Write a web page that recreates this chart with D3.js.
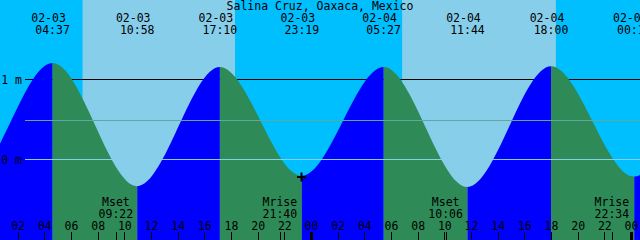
<!DOCTYPE html>
<html>
<head>
<meta charset="utf-8">
<script src="https://cdn.jsdelivr.net/npm/d3@7"></script>
<style>
  body { margin: 0; }
  svg { display: block; }
  text { font-family: "DejaVu Sans Mono", monospace; font-size: 11.5px; fill: #000; }
</style>
</head>
<body>
<div id="graphic"></div>
<script>
// Chart data
const station = "Salina Cruz, Oaxaca, Mexico";
// high / low tides (the first two and last two lie outside the window)
const tideTimes = ["02-02 16:10", "02-02 22:24", "02-03 04:37", "02-03 10:58", "02-03 17:10",
                   "02-03 23:19", "02-04 05:27", "02-04 11:44", "02-04 18:00", "02-05 00:15",
                   "02-05 06:25", "02-05 12:35"];
const tideHeights = [1.17, -0.25, 1.20, -0.34, 1.15, -0.21, 1.15, -0.35, 1.16, -0.22, 1.18, -0.33];
const sunrises = ["02-03 06:52", "02-04 06:50"];
const sunsets = ["02-03 18:18", "02-04 18:22"];
const moonEvents = ["Mset", "Mrise", "Mset", "Mrise"];
const moonTimes = ["02-03 09:22", "02-03 21:40", "02-04 10:06", "02-04 22:34"];
const levelTicks = [0, 1];
const meanLevel = 0.49;
const markTime = "02-03 23:14";
const markHeight = -0.22;

const width = 640, height = 240;
const parse = d3.utcParse("%m-%d %H:%M");
const tides = tideTimes.map((t, i) => ({ time: parse(t), h: tideHeights[i] }));

const x = d3.scaleUtc()
  .domain([parse("02-03 00:00"), parse("02-05 00:00")])
  .range([-9, 631]);
const y = d3.scaleLinear().domain([0, 1]).range([159, 79]);

const svg = d3.select("#graphic").append("svg")
  .attr("width", width).attr("height", height);

// night / day background
svg.append("rect").attr("width", width).attr("height", height).attr("fill", "#00bfff");
svg.selectAll(".day")
  .data(sunrises.map((s, i) => [parse(s), parse(sunsets[i])]))
  .join("rect")
  .attr("x", d => x(d[0])).attr("width", d => x(d[1]) - x(d[0]))
  .attr("y", 0).attr("height", height)
  .attr("fill", "#87ceeb");

// 1 m line sits behind the water
svg.append("line")
  .attr("x1", 25).attr("x2", width)
  .attr("y1", y(1) + 0.5).attr("y2", y(1) + 0.5)
  .attr("stroke", "#000");

// water area, coloured by rising / falling
const area = d3.area()
  .x(d => x(d.time))
  .y0(height)
  .y1(d => y(d.h))
  .curve(d3.curveMonotoneX);

svg.append("clipPath").attr("id", "water")
  .append("path").attr("d", area(tides));

svg.append("g").attr("clip-path", "url(#water)")
  .selectAll("rect")
  .data(d3.pairs(tides))
  .join("rect")
  .attr("x", d => x(d[0].time))
  .attr("width", d => x(d[1].time) - x(d[0].time))
  .attr("y", 0).attr("height", height)
  .attr("fill", d => d[1].h > d[0].h ? "#0000ff" : "#2e8b57");

// mean level and datum lines drawn over the water
svg.append("line")
  .attr("x1", 25).attr("x2", width)
  .attr("y1", Math.round(y(meanLevel)) + 0.5).attr("y2", Math.round(y(meanLevel)) + 0.5)
  .attr("stroke", "#5fa8a0");
svg.append("line")
  .attr("x1", 25).attr("x2", width)
  .attr("y1", y(0) + 0.5).attr("y2", y(0) + 0.5)
  .attr("stroke", "#87ceeb");

// level labels
const yAxis = svg.append("g")
  .attr("transform", "translate(25,0)")
  .call(d3.axisLeft(y).tickValues(levelTicks).tickFormat(d => d + " m").tickSize(0).tickPadding(3));
yAxis.select(".domain").remove();
yAxis.attr("font-family", null).attr("font-size", null);
yAxis.selectAll("text").attr("dy", "0.35em");

// "+" marker
const mx = Math.round(x(parse(markTime))), my = Math.round(y(markHeight));
svg.append("path")
  .attr("d", `M${mx - 4},${my}H${mx + 5}M${mx + 0.5},${my - 4.5}V${my + 4.5}`)
  .attr("stroke", "#000").attr("stroke-width", 2).attr("fill", "none");

// title
svg.append("text")
  .attr("x", 320).attr("y", 9.5)
  .attr("text-anchor", "middle")
  .text(station);

// tide event labels (only those inside the window)
const fmtDate = d3.utcFormat("%m-%d"), fmtTime = d3.utcFormat("%H:%M");
const shown = tides.filter(d => x(d.time) >= 0 && x(d.time) <= width);
const ev = svg.append("g").selectAll("g").data(shown).join("g");
ev.append("text")
  .attr("x", d => x(d.time) - 4).attr("y", 22)
  .attr("text-anchor", "middle")
  .text(d => fmtDate(d.time));
ev.append("text")
  .attr("x", d => x(d.time)).attr("y", 33.5)
  .attr("text-anchor", "middle")
  .text(d => fmtTime(d.time));

// moon events
const moon = moonTimes.map((t, i) => ({ time: parse(t), name: moonEvents[i] }));
const mg = svg.append("g").selectAll("g").data(moon).join("g");
mg.append("text")
  .attr("x", d => x(d.time)).attr("y", 206)
  .attr("text-anchor", "middle")
  .text(d => d.name);
mg.append("text")
  .attr("x", d => x(d.time)).attr("y", 218)
  .attr("text-anchor", "middle")
  .text(d => fmtTime(d.time));
mg.append("line")
  .attr("x1", d => Math.round(x(d.time)) + 0.5).attr("x2", d => Math.round(x(d.time)) + 0.5)
  .attr("y1", 232).attr("y2", height)
  .attr("stroke", "#000");

// hour axis along the bottom, only ticks inside the window
const hourTicks = d3.utcHour.every(2).range(x.invert(0), x.invert(width));
const xAxis = svg.append("g")
  .attr("transform", `translate(0,${height})`)
  .call(d3.axisTop(x)
    .tickValues(hourTicks)
    .tickFormat(d3.utcFormat("%H"))
    .tickSize(8).tickPadding(2));
xAxis.select(".domain").remove();
xAxis.attr("font-family", null).attr("font-size", null);
xAxis.selectAll(".tick line")
  .attr("stroke", "#000")
  .attr("shape-rendering", "crispEdges")
  .attr("stroke-width", d => d.getUTCHours() === 0 ? 3 : 1);
</script>
</body>
</html>
